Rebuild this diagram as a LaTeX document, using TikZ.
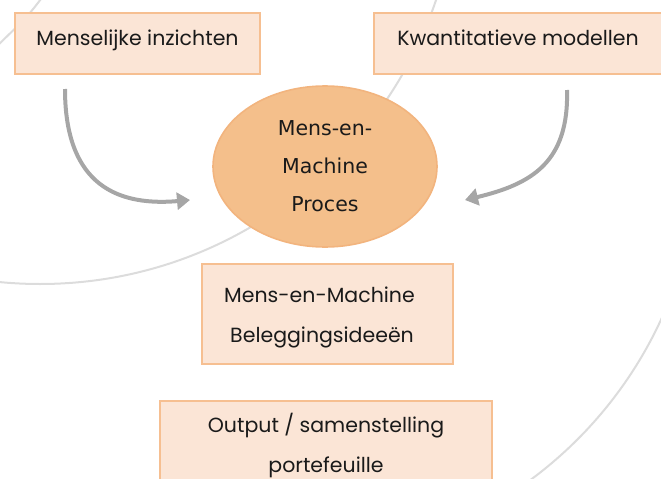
\documentclass[tikz,border=0pt]{standalone}
\usepackage{fontspec}
\setmainfont{Poppins}
\newfontfamily\ellfont{DejaVu Sans}
\usetikzlibrary{shapes.geometric,arrows.meta}
\definecolor{boxfill}{HTML}{FBE5D6}
\definecolor{boxline}{HTML}{F6BF91}
\definecolor{ellfill}{HTML}{F4BF8B}
\definecolor{ellline}{HTML}{F2B47E}
\definecolor{arrgray}{HTML}{A6A6A6}
\definecolor{arcgray}{HTML}{DCDCDC}
\definecolor{txt}{HTML}{1A1A1A}
\tikzset{
  arcline/.style={draw=arcgray, line width=2pt},
  boxnode/.style={rectangle, draw=boxline, line width=1.6pt, fill=boxfill, inner sep=0pt,
    text=txt, align=center, font=\fontsize{20.5}{40}\selectfont},
  ellnode/.style={ellipse, draw=ellline, line width=1.6pt, fill=ellfill, inner sep=0pt,
    text=txt, align=center, font=\ellfont\fontsize{20.5}{38}\selectfont,
    minimum width=224pt, minimum height=161pt},
  arr/.style={draw=arrgray, line width=4pt, -{Triangle[length=13pt,width=17pt]}}
}
\begin{document}
\begin{tikzpicture}[x=1pt,y=-1pt]
\useasboundingbox (0,0) rectangle (661,479);
\clip (0,0) rectangle (661,479);
% background arcs
\draw[arcline] (44,-5) .. controls (28,16) .. (-5,48);
\draw[arcline] (40,-134) circle[radius=418pt];
\begin{scope}
  \clip (400,250) rectangle (670,490);
  \draw[arcline] (284,146) circle[radius=415pt];
\end{scope}
% nodes
\node[boxnode, minimum width=245pt, minimum height=61pt, text depth=12pt] (mi) at (137.5,43.5) {Menselijke inzichten};
\node[boxnode, minimum width=288pt, minimum height=61pt, text depth=12pt] (km) at (518,43.5) {Kwantitatieve modellen};
\node[ellnode] (pr) at (325,166.5) {Mens-en-\\Machine\\Proces};
\node[boxnode, minimum width=251pt, minimum height=100pt] (bi) at (327.5,314) {\raisebox{5pt}{\begin{tabular}{@{}l@{}}Mens-en-Machine\\\hspace{6pt}Beleggingsideeën\end{tabular}}\hspace{16pt}};
\node[boxnode, minimum width=332pt, minimum height=89pt] (op) at (326,445.5) {Output / samenstelling\\portefeuille};
% connectors
\coordinate (l0) at (65,89);
\coordinate (l1) at (190,200);
\coordinate (r0) at (567,90);
\coordinate (r1) at (465,200);
\draw[arr] (l0) .. controls (65,178) and (110,207) .. (l1);
\draw[arr] (r0) .. controls (569,162) and (532,184) .. (r1);
\end{tikzpicture}
\end{document}
